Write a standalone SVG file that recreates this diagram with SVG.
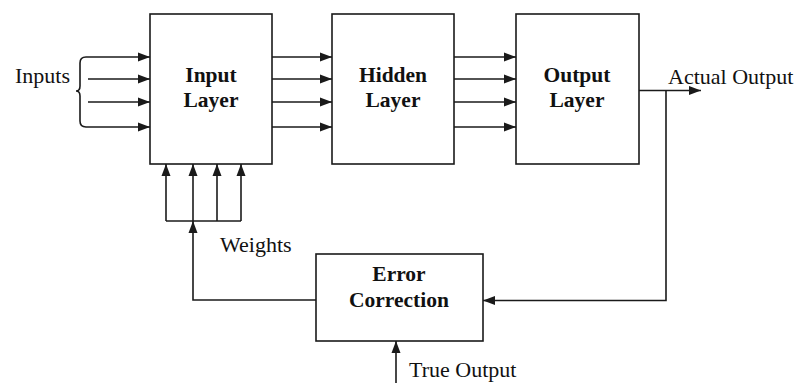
<svg xmlns="http://www.w3.org/2000/svg" width="797" height="383" viewBox="0 0 797 383">
<defs>
<marker id="ah" markerWidth="12" markerHeight="10" refX="12" refY="5" orient="auto" markerUnits="userSpaceOnUse">
<path d="M0,0.5 L12,5 L0,9.5 Z" fill="#1a1a1a"/>
</marker>
<style>
.box{fill:#fff;stroke:#1a1a1a;stroke-width:1.6}
.ln{fill:none;stroke:#1a1a1a;stroke-width:1.6}
.arr{fill:none;stroke:#1a1a1a;stroke-width:1.6;marker-end:url(#ah)}
.b{font-family:"Liberation Serif","Times New Roman",serif;font-weight:bold;font-size:21.5px;fill:#111;text-anchor:middle}
.t{font-family:"Liberation Serif","Times New Roman",serif;font-size:22px;fill:#111}
</style>
</defs>
<rect width="797" height="383" fill="#fff"/>
<g id="connectors">
<path class="ln" d="M86,57 Q80,57 80,63 L80,86 Q80,91 76,91 Q80,91 80,96 L80,121 Q80,127 86,127"/>
<line class="arr" x1="86" y1="57" x2="150" y2="57"/>
<line class="arr" x1="88" y1="79" x2="150" y2="79"/>
<line class="arr" x1="88" y1="102" x2="150" y2="102"/>
<line class="arr" x1="86" y1="127" x2="150" y2="127"/>
<line class="arr" x1="272" y1="57" x2="332" y2="57"/>
<line class="arr" x1="272" y1="79" x2="332" y2="79"/>
<line class="arr" x1="272" y1="102" x2="332" y2="102"/>
<line class="arr" x1="272" y1="127" x2="332" y2="127"/>
<line class="arr" x1="454" y1="57" x2="516" y2="57"/>
<line class="arr" x1="454" y1="79" x2="516" y2="79"/>
<line class="arr" x1="454" y1="102" x2="516" y2="102"/>
<line class="arr" x1="454" y1="127" x2="516" y2="127"/>
<line class="arr" x1="639" y1="90.5" x2="701" y2="90.5"/>
<path class="arr" d="M666,90.5 L666,300.5 L483,300.5"/>
<line class="arr" x1="396" y1="383" x2="396" y2="341"/>
<path class="arr" d="M316,300 L193,300 L193,221"/>
<line class="ln" x1="166" y1="221" x2="241" y2="221"/>
<line class="arr" x1="166" y1="221" x2="166" y2="164"/>
<line class="arr" x1="193" y1="221" x2="193" y2="164"/>
<line class="arr" x1="217" y1="221" x2="217" y2="164"/>
<line class="arr" x1="241" y1="221" x2="241" y2="164"/>
</g>
<g id="input-layer">
<rect class="box" x="150" y="14" width="122" height="150"/>
<text class="b" x="211" y="82">Input</text>
<text class="b" x="211" y="107">Layer</text>
</g>
<g id="hidden-layer">
<rect class="box" x="332" y="14" width="122" height="150"/>
<text class="b" x="393" y="82">Hidden</text>
<text class="b" x="393" y="107">Layer</text>
</g>
<g id="output-layer">
<rect class="box" x="516" y="14" width="123" height="150"/>
<text class="b" x="577" y="82">Output</text>
<text class="b" x="577" y="107">Layer</text>
</g>
<g id="error-correction">
<rect class="box" x="316" y="254" width="167" height="87"/>
<text class="b" x="399" y="281">Error</text>
<text class="b" x="399" y="307">Correction</text>
</g>
<g id="labels">
<text class="t" x="15" y="83">Inputs</text>
<text class="t" x="668" y="84">Actual Output</text>
<text class="t" x="220" y="252">Weights</text>
<text class="t" x="409" y="377">True Output</text>
</g>
</svg>
